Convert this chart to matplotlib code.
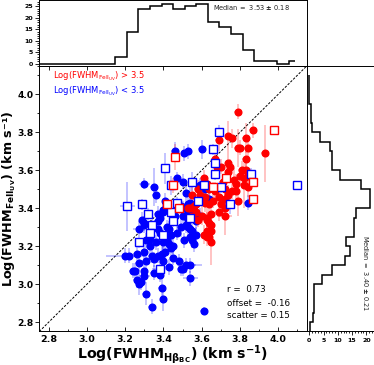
import matplotlib
matplotlib.use("Agg")
import matplotlib.pyplot as plt
from matplotlib.ticker import MultipleLocator

plt.rcParams['font.family'] = ['DejaVu Sans']
plt.rcParams['mathtext.fontset'] = 'dejavusans'
plt.rcParams['mathtext.default'] = 'bf'

# ---------------- data ----------------
# blue filled circles (FeII < 3.5 sample)
bc_x = [3.46, 3.51, 3.53, 3.60, 3.30, 3.35, 3.36, 3.47, 3.50, 3.52,
        3.54, 3.53, 3.53, 3.57, 3.40, 3.38, 3.46, 3.30, 3.59, 3.62,
        3.63, 3.64, 3.84, 3.50, 3.53, 3.54, 3.57, 3.59,
        3.27, 3.30, 3.37, 3.38, 3.43, 3.44, 3.49, 3.53, 3.54, 3.57,
        3.54, 3.51, 3.55, 3.31, 3.33, 3.36, 3.40, 3.42, 3.43, 3.45,
        3.20, 3.22, 3.26, 3.30, 3.34, 3.37, 3.39, 3.41, 3.44, 3.45,
        3.35, 3.31, 3.27, 3.40, 3.43, 3.48, 3.50, 3.52, 3.54, 3.25,
        3.30, 3.35, 3.38, 3.30, 3.26, 3.27, 3.54, 3.31, 3.39, 3.40,
        3.34, 3.61, 3.37, 3.40, 3.37, 3.42, 3.49, 3.50, 3.52, 3.55,
        3.56, 3.24, 3.28, 3.49, 3.29, 3.33, 3.47, 3.41]
bc_y = [3.70, 3.69, 3.70, 3.71, 3.53, 3.51, 3.47, 3.56, 3.54, 3.48,
        3.43, 3.38, 3.34, 3.33, 3.38, 3.35, 3.36, 3.32, 3.52, 3.50,
        3.53, 3.45, 3.43, 3.40, 3.42, 3.37, 3.37, 3.36,
        3.29, 3.31, 3.29, 3.27, 3.29, 3.26, 3.30, 3.30, 3.29, 3.26,
        3.25, 3.23, 3.23, 3.23, 3.24, 3.22, 3.22, 3.23, 3.21, 3.20,
        3.15, 3.15, 3.16, 3.17, 3.15, 3.15, 3.16, 3.17, 3.19, 3.14,
        3.13, 3.12, 3.11, 3.12, 3.09, 3.12, 3.08, 3.10, 3.10, 3.07,
        3.07, 3.06, 3.05, 3.04, 3.02, 3.00, 3.03, 2.95, 2.98, 2.92,
        2.88, 2.86, 3.37, 3.39, 3.33, 3.30, 3.41, 3.36, 3.31, 3.28,
        3.21, 3.07, 3.01, 3.08, 3.34, 3.20, 3.27, 3.44]
bc_ex = [0.02, 0.02, 0.02, 0.02, 0.03, 0.02, 0.02, 0.02, 0.02, 0.02,
         0.02, 0.02, 0.02, 0.02, 0.02, 0.02, 0.02, 0.02, 0.02, 0.02,
         0.02, 0.02, 0.02, 0.02, 0.02, 0.02, 0.02, 0.02,
         0.03, 0.02, 0.02, 0.02, 0.02, 0.02, 0.02, 0.02, 0.02, 0.02,
         0.02, 0.02, 0.02, 0.02, 0.02, 0.02, 0.02, 0.02, 0.02, 0.02,
         0.10, 0.02, 0.02, 0.02, 0.02, 0.02, 0.02, 0.02, 0.02, 0.02,
         0.02, 0.02, 0.02, 0.02, 0.02, 0.02, 0.02, 0.05, 0.06, 0.02,
         0.02, 0.02, 0.02, 0.03, 0.02, 0.02, 0.04, 0.02, 0.02, 0.02,
         0.02, 0.02, 0.02, 0.02, 0.02, 0.02, 0.02, 0.02, 0.02, 0.02,
         0.02, 0.02, 0.02, 0.02, 0.02, 0.02, 0.02, 0.02]
bc_ey = [0.05, 0.04, 0.04, 0.05, 0.03, 0.10, 0.04, 0.03, 0.04, 0.05,
         0.08, 0.05, 0.04, 0.04, 0.04, 0.04, 0.04, 0.04, 0.04, 0.05,
         0.04, 0.04, 0.04, 0.04, 0.04, 0.04, 0.04, 0.04,
         0.04, 0.04, 0.04, 0.04, 0.04, 0.04, 0.05, 0.04, 0.04, 0.04,
         0.04, 0.04, 0.04, 0.04, 0.04, 0.04, 0.04, 0.04, 0.04, 0.04,
         0.04, 0.04, 0.04, 0.04, 0.04, 0.04, 0.05, 0.04, 0.04, 0.04,
         0.04, 0.04, 0.04, 0.08, 0.04, 0.04, 0.04, 0.04, 0.04, 0.04,
         0.04, 0.04, 0.04, 0.04, 0.04, 0.06, 0.04, 0.06, 0.05, 0.06,
         0.04, 0.02, 0.04, 0.04, 0.04, 0.04, 0.04, 0.04, 0.04, 0.04,
         0.04, 0.04, 0.04, 0.04, 0.04, 0.04, 0.04, 0.04]

# red filled circles (FeII > 3.5 sample)
rc_x = [3.79, 3.87, 3.69, 3.74, 3.76, 3.83, 3.79, 3.80, 3.84, 3.93,
        3.83, 3.67, 3.68, 3.70, 3.74, 3.75, 3.81, 3.83, 3.74, 3.80,
        3.82, 3.84, 3.71, 3.77, 3.78, 3.82, 3.84, 3.72, 3.76, 3.78,
        3.63, 3.64, 3.67, 3.69, 3.72, 3.74, 3.79, 3.64, 3.66, 3.70,
        3.72, 3.65, 3.69, 3.72, 3.64, 3.65, 3.63, 3.65, 3.63, 3.65,
        3.63, 3.61, 3.58, 3.55, 3.59, 3.62, 3.62, 3.57, 3.54, 3.57,
        3.60, 3.55, 3.58, 3.63, 3.61, 3.64, 3.53, 3.56]
rc_y = [3.91, 3.81, 3.76, 3.78, 3.77, 3.77, 3.72, 3.72, 3.72, 3.69,
        3.66, 3.66, 3.62, 3.62, 3.64, 3.62, 3.60, 3.60, 3.59, 3.57,
        3.56, 3.57, 3.54, 3.55, 3.53, 3.52, 3.51, 3.50, 3.49, 3.49,
        3.53, 3.50, 3.49, 3.46, 3.45, 3.47, 3.44, 3.42, 3.44, 3.42,
        3.36, 3.37, 3.38, 3.40, 3.32, 3.31, 3.28, 3.28, 3.25, 3.22,
        3.34, 3.56, 3.50, 3.47, 3.47, 3.46, 3.43, 3.42, 3.40, 3.38,
        3.36, 3.36, 3.34, 3.35, 3.26, 3.25, 3.40, 3.41]
rc_ex = [0.02, 0.02, 0.02, 0.02, 0.02, 0.02, 0.02, 0.02, 0.02, 0.02,
         0.02, 0.02, 0.02, 0.02, 0.02, 0.02, 0.02, 0.02, 0.02, 0.02,
         0.02, 0.02, 0.02, 0.02, 0.02, 0.02, 0.02, 0.02, 0.02, 0.02,
         0.02, 0.02, 0.02, 0.02, 0.02, 0.02, 0.02, 0.02, 0.02, 0.02,
         0.04, 0.02, 0.02, 0.02, 0.02, 0.02, 0.02, 0.02, 0.02, 0.02,
         0.02, 0.02, 0.02, 0.02, 0.02, 0.02, 0.02, 0.02, 0.02, 0.02,
         0.02, 0.02, 0.02, 0.02, 0.02, 0.02, 0.02, 0.02]
rc_ey = [0.04, 0.04, 0.06, 0.08, 0.05, 0.08, 0.10, 0.04, 0.06, 0.15,
         0.05, 0.04, 0.05, 0.04, 0.06, 0.04, 0.05, 0.06, 0.05, 0.04,
         0.05, 0.04, 0.04, 0.06, 0.05, 0.12, 0.05, 0.05, 0.04, 0.05,
         0.04, 0.04, 0.05, 0.05, 0.04, 0.05, 0.08, 0.05, 0.04, 0.05,
         0.10, 0.04, 0.05, 0.04, 0.04, 0.04, 0.05, 0.04, 0.05, 0.12,
         0.04, 0.04, 0.05, 0.04, 0.05, 0.04, 0.05, 0.04, 0.04, 0.04,
         0.05, 0.04, 0.04, 0.05, 0.05, 0.04, 0.04, 0.04]

# blue open squares
bs_x = [3.41, 3.21, 3.29, 3.32, 3.44, 3.47, 3.44, 3.55, 3.61, 3.58,
        3.34, 3.69, 3.66, 3.67, 3.67, 3.70, 3.86, 3.75, 4.10, 3.33,
        3.40, 3.27, 3.54, 3.38, 3.45]
bs_y = [3.61, 3.41, 3.42, 3.37, 3.52, 3.43, 3.38, 3.54, 3.52, 3.44,
        3.31, 3.80, 3.71, 3.64, 3.58, 3.51, 3.58, 3.42, 3.52, 3.27,
        3.26, 3.22, 3.35, 3.08, 3.33]
bs_ex = [0.02, 0.04, 0.02, 0.02, 0.02, 0.02, 0.02, 0.02, 0.02, 0.02,
         0.02, 0.02, 0.02, 0.02, 0.02, 0.02, 0.02, 0.02, 0.00, 0.02,
         0.02, 0.02, 0.02, 0.04, 0.02]
bs_ey = [0.08, 0.13, 0.03, 0.03, 0.05, 0.03, 0.04, 0.05, 0.03, 0.03,
         0.03, 0.04, 0.03, 0.03, 0.03, 0.03, 0.03, 0.05, 0.00, 0.03,
         0.03, 0.03, 0.03, 0.04, 0.03]

# red open squares
rs_x = [3.46, 3.45, 3.42, 3.48, 3.98, 3.73, 3.87, 3.87, 3.66]
rs_y = [3.67, 3.52, 3.42, 3.40, 3.81, 3.56, 3.54, 3.45, 3.51]
rs_ex = [0.02, 0.02, 0.02, 0.02, 0.00, 0.02, 0.02, 0.02, 0.02]
rs_ey = [0.07, 0.04, 0.03, 0.03, 0.00, 0.03, 0.02, 0.02, 0.03]

# top histogram: FWHM(Hbeta_BC)
hb_edges = [2.70, 3.147, 3.208, 3.269, 3.329, 3.390, 3.451, 3.511, 3.572,
            3.633, 3.693, 3.754, 3.815, 3.875, 3.936, 3.997, 4.057, 4.088]
hb_counts = [0, 3, 14, 24, 25, 26, 24, 25, 26, 18, 16, 13, 6, 1, 1, 0, 1]

# right histogram: FWHM(FeII_UV)
fe_edges = [2.70, 2.80, 2.85, 3.00, 3.05, 3.10, 3.15, 3.20, 3.25, 3.35,
            3.40, 3.50, 3.55, 3.60, 3.70, 3.75, 3.80, 3.85, 3.95, 4.10]
fe_counts = [0.25, 1.2, 1.6, 4.3, 7.8, 12.4, 14.2, 13.0, 15.7, 16.5,
             21.2, 18.3, 10.7, 8.0, 7.1, 3.6, 0.9, 0.5, 0.0]

lims = (2.75, 4.15)
main_ticks = [2.8, 3.0, 3.2, 3.4, 3.6, 3.8, 4.0]

# ---------------- figure ----------------
fig = plt.figure(figsize=(3.74, 3.65), dpi=100)
ax = fig.add_axes([0.1051, 0.0918, 0.715, 0.7274])
axt = fig.add_axes([0.1051, 0.8192, 0.715, 0.1795])
axr = fig.add_axes([0.8201, 0.0918, 0.18, 0.7274])

blue = '#0000ff'
red = '#ff0000'
eb_blue = (0.0, 0.0, 1.0, 0.28)
eb_red = (1.0, 0.0, 0.0, 0.28)

ax.plot(lims, lims, ls=(0, (2.5, 1.5)), color='black', lw=0.7, zorder=1)

ax.errorbar(bc_x, bc_y, xerr=bc_ex, yerr=bc_ey, fmt='none', ecolor=eb_blue,
            elinewidth=1.2, capsize=0, zorder=2)
ax.errorbar(rc_x, rc_y, xerr=rc_ex, yerr=rc_ey, fmt='none', ecolor=eb_red,
            elinewidth=1.2, capsize=0, zorder=2)
ax.errorbar(bs_x, bs_y, xerr=bs_ex, yerr=bs_ey, fmt='none', ecolor=eb_blue,
            elinewidth=1.2, capsize=0, zorder=2)
ax.errorbar(rs_x, rs_y, xerr=rs_ex, yerr=rs_ey, fmt='none', ecolor=eb_red,
            elinewidth=1.2, capsize=0, zorder=2)

ax.plot(bc_x, bc_y, 'o', color=blue, ms=4.8, mec=blue, zorder=3)
ax.plot(rc_x, rc_y, 'o', color=red, ms=4.8, mec=red, zorder=4)
ax.plot(bs_x, bs_y, 's', mfc='white', mec=blue, ms=5.6, mew=1.0, zorder=5)
ax.plot(rs_x, rs_y, 's', mfc='white', mec=red, ms=5.6, mew=1.0, zorder=5)

ax.set_xlim(lims)
ax.set_ylim(lims)
ax.set_xticks(main_ticks)
ax.set_yticks(main_ticks)
ax.xaxis.set_minor_locator(MultipleLocator(0.1))
ax.yaxis.set_minor_locator(MultipleLocator(0.1))
ax.tick_params(which='both', top=False, right=True, labelright=False,
               width=0.6)
ax.tick_params(axis='y', which='both', direction='out')
ax.tick_params(axis='y', which='major', length=3, labelsize=6.6, pad=1.2)
ax.tick_params(axis='y', which='minor', length=1.6)
ax.tick_params(axis='x', which='both', direction='in')
ax.tick_params(axis='x', which='major', length=3, labelsize=6.8, pad=2.5)
ax.tick_params(axis='x', which='minor', length=1.6)
for lab in ax.get_xticklabels() + ax.get_yticklabels():
    lab.set_fontweight('bold')
for s in ax.spines.values():
    s.set_linewidth(0.7)

ax.set_xlabel(r'Log(FWHM$_{H\beta_{BC}}$) (km s$^{-1}$)', fontsize=10.2,
              fontweight='bold')
ax.set_ylabel('Log(FWHM$_{FeII_{UV}}$) (km s\u207b\u00b9)', fontsize=9.2,
              fontweight='bold')
ax.xaxis.set_label_coords(0.5, -0.045)
ax.yaxis.set_label_coords(-0.0785, 0.5)

ax.text(0.052, 0.960, r'Log(FWHM$_{\rm FeII_{UV}}$) > 3.5', color=red,
        fontsize=6, transform=ax.transAxes, va='center', ha='left')
ax.text(0.052, 0.906, r'Log(FWHM$_{\rm FeII_{UV}}$) < 3.5', color=blue,
        fontsize=6, transform=ax.transAxes, va='center', ha='left')

ax.text(0.701, 0.160, 'r =  0.73', fontsize=6.3, transform=ax.transAxes,
        va='center', ha='left')
ax.text(0.701, 0.107, 'offset =  -0.16', fontsize=6.3, transform=ax.transAxes,
        va='center', ha='left')
ax.text(0.701, 0.062, 'scatter = 0.15', fontsize=6.3, transform=ax.transAxes,
        va='center', ha='left')

# top histogram
axt.stairs(hb_counts, hb_edges, baseline=None, color='black', lw=1.1)
axt.set_xlim(lims)
axt.set_ylim(-1, 27.5)
axt.set_xticks(main_ticks)
axt.set_yticks([0, 5, 10, 15, 20, 25])
axt.yaxis.set_minor_locator(MultipleLocator(1))
axt.tick_params(which='both', direction='out', labelbottom=False, width=0.6)
axt.tick_params(which='major', length=3, labelsize=4.5, pad=1.5)
axt.tick_params(which='minor', length=1.5)
axt.tick_params(axis='x', which='minor', bottom=False)
for lab in axt.get_yticklabels():
    lab.set_fontweight('bold')
for s in axt.spines.values():
    s.set_linewidth(0.7)
axt.text(0.65, 0.89, 'Median =  3.53 $\\pm$ 0.18', fontsize=4.8,
         transform=axt.transAxes, va='center', ha='left', color='#222222')

# right histogram
axr.stairs(fe_counts, fe_edges, baseline=None, orientation='horizontal',
           color='black', lw=1.1)
axr.set_ylim(lims)
axr.set_xlim(-0.9, 22.7)
axr.set_yticks(main_ticks)
axr.set_xticks([0, 5, 10, 15, 20])
axr.xaxis.set_minor_locator(MultipleLocator(1))
axr.tick_params(which='both', direction='out', left=False, labelleft=False,
                width=0.6)
axr.tick_params(which='major', length=3, labelsize=4.5, pad=1.5)
axr.tick_params(which='minor', length=1.5)
for lab in axr.get_xticklabels():
    lab.set_fontweight('bold')
for s in axr.spines.values():
    s.set_linewidth(0.7)
axr.text(0.866, 0.22, 'Median =  3.40 $\\pm$ 0.21', fontsize=4.8,
         rotation=270, transform=axr.transAxes, va='center', ha='center',
         color='#222222')

fig.savefig('out.png', dpi=100)
